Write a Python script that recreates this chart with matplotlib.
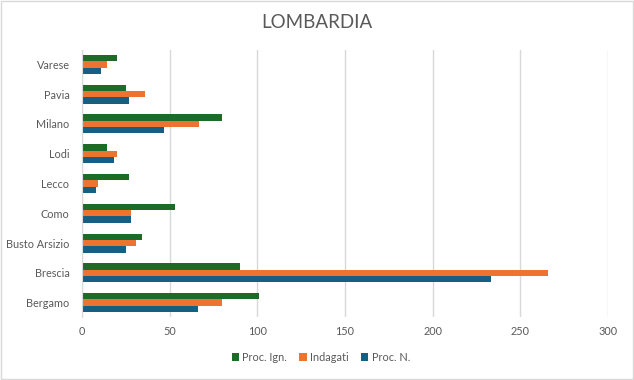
import matplotlib
matplotlib.use("Agg")
import matplotlib.pyplot as plt
import numpy as np

categories = ["Bergamo", "Brescia", "Busto Arsizio", "Como", "Lecco", "Lodi", "Milano", "Pavia", "Varese"]
proc_ign = [101, 90, 34, 53, 27, 14, 80, 25, 20]
indagati = [80, 266, 31, 28, 9, 20, 67, 36, 14]
proc_n = [66, 233, 25, 28, 8, 18, 47, 27, 11]
series_names = ["Proc. Ign.", "Indagati", "Proc. N."]
xticks = [0, 50, 100, 150, 200, 250, 300]

plt.rcParams['font.family'] = ['Lato', 'DejaVu Sans']
text_color = "#595959"
colors = ["#1c6b27", "#ed7430", "#175f82"]

fig = plt.figure(figsize=(6.34, 3.8), dpi=100)
fig.patch.set_facecolor("white")
ax = fig.add_axes([0.1293, 0.1647, 0.8297, 0.7048])

y = np.arange(len(categories))
h = 0.213
for i, (vals, name) in enumerate(zip([proc_ign, indagati, proc_n], series_names)):
    ax.barh(y + (1 - i) * h, vals, height=h, color=colors[i], label=name, zorder=3)

ax.set_ylim(-0.5, len(categories) - 0.5)
ax.set_xlim(0, 300)
ax.set_xticks(xticks)
ax.set_yticks(y)
ax.set_yticklabels(categories)
ax.tick_params(axis='both', length=0, colors=text_color, labelsize=7.8)
ax.tick_params(axis='x', pad=6)
ax.tick_params(axis='y', pad=9)
ax.grid(axis='x', color="#d9d9d9", linewidth=1, zorder=0)
for s in ["top", "right", "bottom"]:
    ax.spines[s].set_visible(False)
ax.spines["left"].set_color("#d9d9d9")
ax.spines["left"].set_zorder(4)

fig.text(0.5, 0.942, "LOMBARDIA", ha="center", va="center", fontsize=13.5, color=text_color)

handles, labels = ax.get_legend_handles_labels()
fig.legend(handles, labels, loc="center", bbox_to_anchor=(0.506, 0.06), ncol=3, frameon=False,
           fontsize=7.8, labelcolor=text_color, handlelength=0.7, handleheight=0.7,
           handletextpad=0.3, columnspacing=1.1)

border = plt.Rectangle((0.001, 0.002), 0.997, 0.995, transform=fig.transFigure, fill=False,
                       edgecolor="#d9d9d9", linewidth=1)
fig.patches.append(border)

fig.savefig("out.png", dpi=100, facecolor="white")
